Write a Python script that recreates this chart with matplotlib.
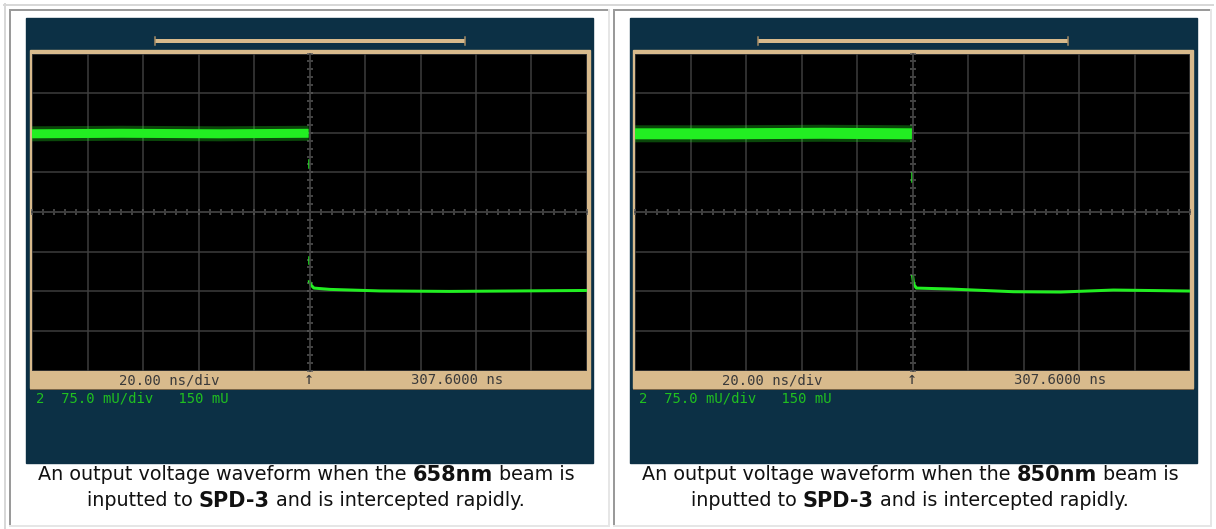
import matplotlib.pyplot as plt
from matplotlib.patches import Rectangle
from matplotlib.ticker import MultipleLocator

W, H = 1216, 529

# scope settings shown on screen
time_center = 307.6   # ns at the trigger mark
ns_per_div = 20.0
mv_per_div = 75.0
mv_offset = 150.0
bar_left = "20.00 ns/div"
bar_right = "307.6000 ns"
chan_text = "2  75.0 mU/div   150 mU"

# 658nm trace (ns, mV)
hi_t_658 = [207.6, 240.0, 275.0, 307.3]
hi_v_658 = [298, 299, 298, 299]
dot_t_658 = [307.5, 307.5]
dot_lo_658 = [233, 52]
dot_hi_658 = [248, 65]
lo_t_658 = [307.4, 308.1, 309.2, 315.0, 333.0, 358.0, 383.5, 407.6]
lo_v_658 = [21, 12, 6, 3.5, 0.6, -0.3, 0.6, 1.5]

# 850nm trace (ns, mV)
hi_t_850 = [207.6, 240.0, 275.0, 307.4]
hi_v_850 = [298, 298, 299, 298]
dot_t_850 = [307.5]
dot_lo_850 = [207]
dot_hi_850 = [224]
lo_t_850 = [307.6, 308.0, 309.0, 321.3, 344.0, 361.0, 380.0, 407.6]
lo_v_850 = [30.7, 13.6, 6.0, 4.2, -0.9, -1.5, 2.3, 0.4]

captions = [
    ("658nm", hi_t_658, hi_v_658, dot_t_658, dot_lo_658, dot_hi_658, lo_t_658, lo_v_658),
    ("850nm", hi_t_850, hi_v_850, dot_t_850, dot_lo_850, dot_hi_850, lo_t_850, lo_v_850),
]

BLUE = '#0c3045'
TAN = '#d8ba8c'
GREEN = '#22ee22'
GRID = '#3e3e3e'
PX = 0.72  # points per pixel at dpi 100

fig = plt.figure(figsize=(W / 100, H / 100), dpi=100)
fig.patch.set_facecolor('white')
bg = fig.add_axes([0, 0, 1, 1])
bg.set_xlim(0, W)
bg.set_ylim(H, 0)
bg.axis('off')

# table borders
bg.plot([4, 1213], [4.5, 4.5], color='#d8d8d8', lw=2 * PX)
bg.plot([4.5, 4.5], [4, 528], color='#d8d8d8', lw=2 * PX)
for x0, x1 in [(10, 609), (614, 1211)]:
    bg.plot([x0, x1], [10, 10], color='#9a9a9a', lw=2 * PX)
    bg.plot([x0, x0], [10, 526], color='#9a9a9a', lw=2 * PX)
    bg.plot([x1, x1], [10, 526], color='#e6e6e6', lw=2 * PX)
    bg.plot([x0, x1], [526, 526], color='#e6e6e6', lw=2 * PX)

renderer = fig.canvas.get_renderer()


def caption_line(cx, y, parts):
    texts = []
    for s, bold in parts:
        t = bg.text(0, y, s, fontsize=15 if bold else 13.8, family='DejaVu Sans',
                    fontweight='bold' if bold else 'normal', va='center', ha='left', color='#111111')
        texts.append(t)
    probe1 = bg.text(0, 0, "x x", fontsize=13.8)
    probe2 = bg.text(0, 0, "xx", fontsize=13.8)
    sp = probe1.get_window_extent(renderer).width - probe2.get_window_extent(renderer).width
    probe1.remove()
    probe2.remove()
    widths = [t.get_window_extent(renderer).width for t in texts]
    total = sum(widths) + sp * (len(texts) - 1)
    x = cx - total / 2
    for t, w in zip(texts, widths):
        t.set_x(x)
        x += w + sp


# pixel layout of each panel: blue box, grid box, caption center, trace band width
panels = [dict(bx0=26, bx1=593, gx0=32, gx1=587, cap=306, band=9),
          dict(bx0=629.5, bx1=1197, gx0=635, gx1=1190, cap=910, band=11)]
gy0, gy1 = 53.5, 370.5

for p, (wl, hi_t, hi_v, dot_t, dot_lo, dot_hi, lo_t, lo_v) in zip(panels, captions):
    bx0, bx1, gx0, gx1 = p['bx0'], p['bx1'], p['gx0'], p['gx1']
    cxp = (gx0 + gx1) / 2
    bg.add_patch(Rectangle((bx0, 18), bx1 - bx0, 445, color=BLUE, zorder=1))
    # tan frame and bottom bar
    bg.add_patch(Rectangle((gx0 - 2.5, gy0 - 3.5), gx1 - gx0 + 5, 388 - gy0 + 3.5, color=TAN, zorder=2))
    bg.plot([gx0 - 2.5, gx1 + 2.5], [388.5, 388.5], color='#7a6548', lw=1 * PX, zorder=3)
    # scale bar at top
    sx0, sx1 = cxp - 154.5, cxp + 155.5
    bg.plot([sx0, sx1], [41, 41], color=TAN, lw=4 * PX, zorder=3, solid_capstyle='butt')
    for sx in (sx0, sx1):
        bg.plot([sx, sx], [37, 45], color='#a88d66', lw=1.5 * PX, zorder=3)
    # bar texts
    bg.text(cxp - 140.5, 380, bar_left, family='DejaVu Sans Mono', fontsize=10,
            color='#3a3a3a', ha='center', va='center', zorder=4)
    bg.text(cxp - 0.5, 379.5, "\u2191", family='DejaVu Sans Mono', fontsize=12,
            color='#3a3a3a', ha='center', va='center', zorder=4)
    bg.text(cxp + 148, 380, bar_right, family='DejaVu Sans Mono', fontsize=10,
            color='#3a3a3a', ha='center', va='center', zorder=4)
    bg.text(gx0 + 4, 399, chan_text, family='DejaVu Sans Mono', fontsize=10,
            color='#20c020', ha='left', va='center', zorder=4)
    caption_line(p['cap'], 475, [("An output voltage waveform when the", False), (wl, True), ("beam is", False)])
    caption_line(p['cap'], 501, [("inputted to", False), ("SPD-3", True), ("and is intercepted rapidly.", False)])

    # scope screen
    ax = fig.add_axes([gx0 / W, 1 - gy1 / H, (gx1 - gx0) / W, (gy1 - gy0) / H])
    ax.set_facecolor('black')
    ax.set_xlim(time_center - 5 * ns_per_div, time_center + 5 * ns_per_div)
    ax.set_ylim(mv_offset - 4 * mv_per_div, mv_offset + 4 * mv_per_div)
    ax.xaxis.set_major_locator(MultipleLocator(ns_per_div, offset=time_center % ns_per_div))
    ax.yaxis.set_major_locator(MultipleLocator(mv_per_div, offset=mv_offset % mv_per_div))
    ax.xaxis.set_minor_locator(MultipleLocator(ns_per_div / 5, offset=time_center % (ns_per_div / 5)))
    ax.yaxis.set_minor_locator(MultipleLocator(mv_per_div / 5, offset=mv_offset % (mv_per_div / 5)))
    ax.grid(True, which='major', color=GRID, lw=1.5 * PX)
    for s in ('top', 'right'):
        ax.spines[s].set_visible(False)
    ax.spines['left'].set_position(('data', time_center))
    ax.spines['bottom'].set_position(('data', mv_offset))
    for s in ('left', 'bottom'):
        ax.spines[s].set_color(GRID)
        ax.spines[s].set_linewidth(1.5 * PX)
    ax.tick_params(which='both', direction='inout', length=5, width=1.5 * PX,
                   color='#5a5a5a', labelleft=False, labelbottom=False)

    # trace
    band = p['band']
    ax.plot(hi_t, hi_v, color=GREEN, lw=(band + 6) * PX, alpha=0.3, solid_capstyle='butt')
    ax.plot(hi_t, hi_v, color=GREEN, lw=band * PX, solid_capstyle='butt')
    for t, a, b in zip(dot_t, dot_lo, dot_hi):
        ax.plot([t, t], [a, b], color=GREEN, lw=1.5 * PX)
    ax.plot(lo_t, lo_v, color=GREEN, lw=3 * PX, solid_capstyle='butt')

fig.savefig('out.png', dpi=100)
